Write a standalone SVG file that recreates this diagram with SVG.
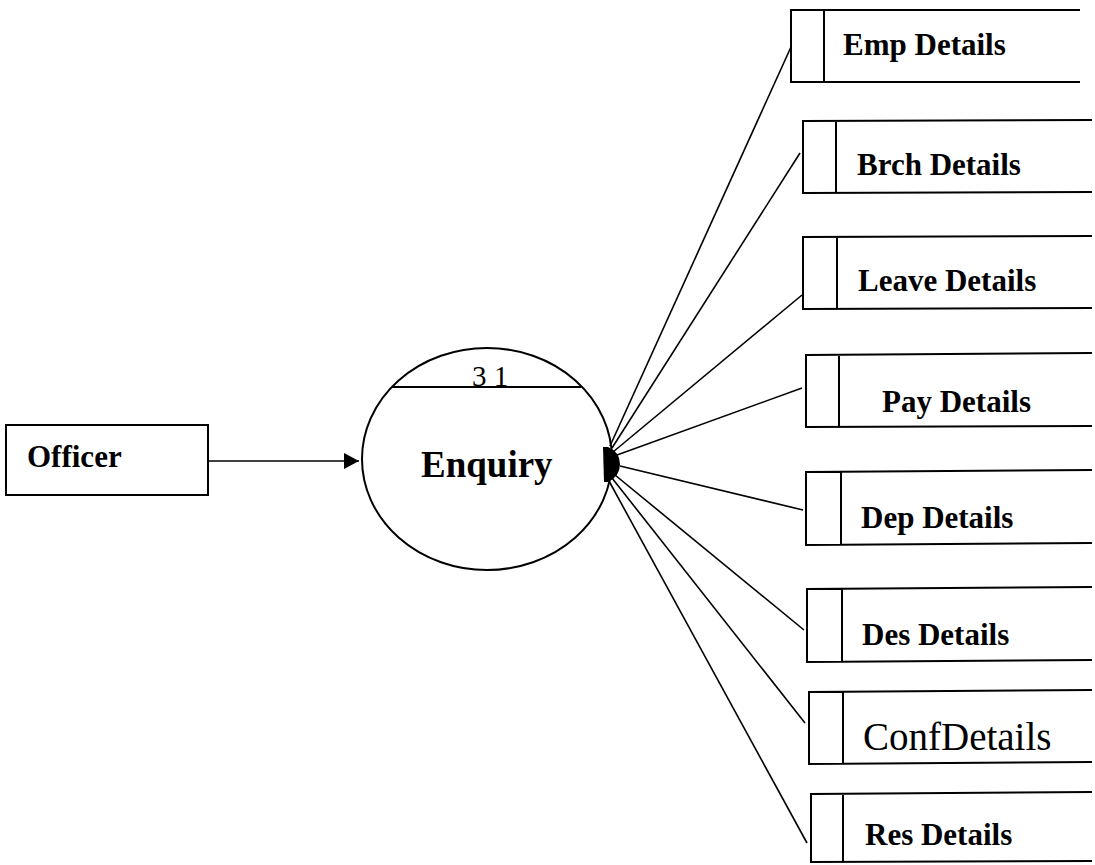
<svg xmlns="http://www.w3.org/2000/svg" width="1095" height="865" viewBox="0 0 1095 865">
<style>
.b{fill:none;stroke:#000;stroke-width:2}
.c{stroke:#000;stroke-width:1.6;fill:none}
.t{font-family:"Liberation Serif","Times New Roman",serif;font-weight:bold;font-size:31px;fill:#000}
.r{font-family:"Liberation Serif","Times New Roman",serif;font-size:39px;fill:#000}
</style>
<defs>
<marker id="ah" markerWidth="16" markerHeight="16" refX="15" refY="8" orient="auto" markerUnits="userSpaceOnUse">
<path d="M0,0 L15,8 L0,16 Z" fill="#000"/>
</marker>
<clipPath id="cl"><rect x="440" y="340" width="100" height="46"/></clipPath>
</defs>
<rect width="1095" height="865" fill="#fff"/>

<g id="connectors">
<line class="c" x1="208" y1="461" x2="359" y2="461" marker-end="url(#ah)"/>
<line class="c" x1="610" y1="446" x2="791" y2="47"/>
<line class="c" x1="612" y1="448" x2="800" y2="153"/>
<line class="c" x1="613" y1="452" x2="802" y2="295"/>
<line class="c" x1="617" y1="455" x2="802" y2="388"/>
<line class="c" x1="620" y1="466" x2="803" y2="510"/>
<line class="c" x1="615" y1="475" x2="804" y2="630"/>
<line class="c" x1="612" y1="478" x2="805" y2="723"/>
<line class="c" x1="609" y1="481" x2="807" y2="843"/>
<path d="M603,447 L608,447 Q620,452 620,464 Q620,476 608,482 L604,482 Z" fill="#000"/>
</g>

<g id="officer">
<rect class="b" x="6" y="425" width="202" height="70"/>
<text class="t" x="27" y="467">Officer</text>
</g>

<g id="enquiry">
<ellipse class="b" cx="487" cy="459" rx="125" ry="111"/>
<line class="b" x1="392" y1="387" x2="581" y2="387"/>
<text clip-path="url(#cl)" x="472" y="386" style="font-family:'Liberation Serif','Times New Roman',serif;font-size:29px">3 1</text>
<text class="t" x="421" y="477" style="font-size:37px">Enquiry</text>
</g>

<g id="emp">
<path class="b" d="M1080,10 L791,10 L791,82 L1080,82 M824,10 L824,82"/>
<text class="t" x="843" y="55">Emp Details</text>
</g>
<g id="brch">
<path class="b" d="M1092,120 L803,121 L803,193 L1092,192 M836,121 L836,193"/>
<text class="t" x="857" y="175">Brch Details</text>
</g>
<g id="leave">
<path class="b" d="M1092,236 L803,237 L803,309 L1092,308 M837,237 L837,309"/>
<text class="t" x="858" y="291">Leave Details</text>
</g>
<g id="pay">
<path class="b" d="M1092,353 L806,355 L806,427 L1092,426 M839,355 L839,427"/>
<text class="t" x="882" y="412">Pay Details</text>
</g>
<g id="dep">
<path class="b" d="M1092,470 L806,472 L806,545 L1092,543 M841,472 L841,545"/>
<text class="t" x="861" y="528">Dep Details</text>
</g>
<g id="des">
<path class="b" d="M1092,587 L807,589 L807,662 L1092,660 M842,589 L842,662"/>
<text class="t" x="862" y="645">Des Details</text>
</g>
<g id="conf">
<path class="b" d="M1092,690 L809,692 L809,764 L1092,762 M843,692 L843,764"/>
<text class="r" x="863" y="750">ConfDetails</text>
</g>
<g id="res">
<path class="b" d="M1092,792 L811,794 L811,862 L1092,861 M843,794 L843,862"/>
<text class="t" x="865" y="845">Res Details</text>
</g>
</svg>
